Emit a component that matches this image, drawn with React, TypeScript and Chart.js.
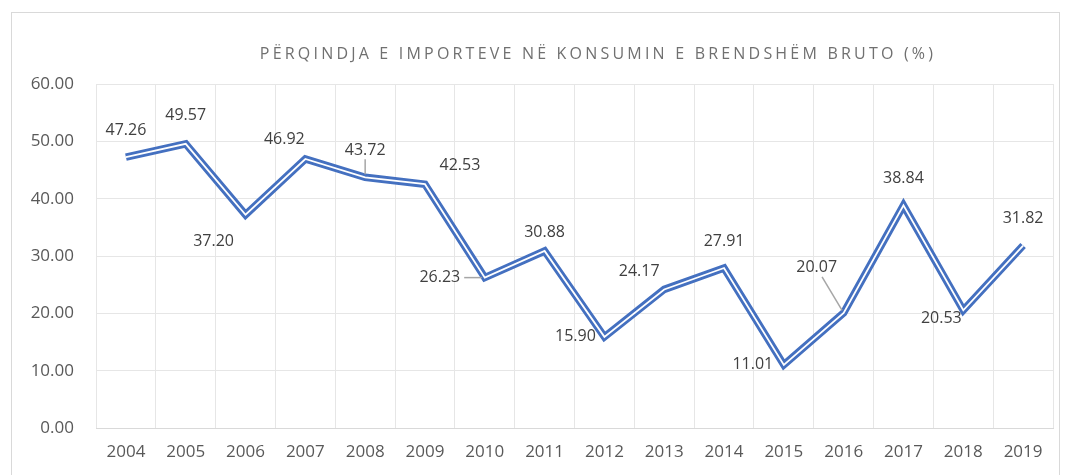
import React, { useEffect, useRef } from "react";
import { Chart, registerables } from "chart.js";

Chart.register(...registerables);

const TITLE = "PËRQINDJA E IMPORTEVE NË KONSUMIN E BRENDSHËM BRUTO (%)";
const years = ["2004", "2005", "2006", "2007", "2008", "2009", "2010", "2011", "2012", "2013", "2014", "2015", "2016", "2017", "2018", "2019"];
const importShare = [47.26, 49.57, 37.2, 46.92, 43.72, 42.53, 26.23, 30.88, 15.9, 24.17, 27.91, 11.01, 20.07, 38.84, 20.53, 31.82];
const yTicks = [0, 10, 20, 30, 40, 50, 60];

// label placement (presentation only): offset of label centre from its point, and leader line flag
const labelOffsets: [number, number][] = [
  [0, -27], [0, -28], [-32, 27], [-21, -20], [0, -27], [35, -19], [-45, 0], [0, -19],
  [-29, 0], [-25, -18], [0, -27], [-31, 0], [-27, -45], [0, -27], [-22, 8], [0, -27],
];
const leaderLines = [false, false, false, false, true, false, true, false, false, false, false, false, true, false, false, false];

const FONT = "'Open Sans', sans-serif";

const decorPlugin = {
  id: "decor",
  beforeDraw(chart: any) {
    const ctx = chart.ctx;
    ctx.save();
    ctx.fillStyle = "#ffffff";
    ctx.fillRect(0, 0, chart.width, chart.height);
    ctx.strokeStyle = "#d9d9d9";
    ctx.lineWidth = 1;
    ctx.strokeRect(11.5, 12.5, 1048, 500);
    ctx.restore();
  },
  afterDraw(chart: any) {
    const ctx = chart.ctx;
    ctx.save();
    ctx.fillStyle = "#707070";
    ctx.font = `16px ${FONT}`;
    (ctx as any).letterSpacing = "3.2px";
    ctx.textAlign = "center";
    ctx.textBaseline = "middle";
    ctx.fillText(TITLE, 598, 54);
    ctx.restore();
  },
  afterDatasetsDraw(chart: any) {
    const ctx = chart.ctx;
    const meta = chart.getDatasetMeta(0);
    ctx.save();
    ctx.font = `16px ${FONT}`;
    ctx.textAlign = "center";
    ctx.textBaseline = "middle";
    meta.data.forEach((pt: any, i: number) => {
      const [dx, dy] = labelOffsets[i];
      const lx = pt.x + dx;
      const ly = pt.y + dy;
      const text = importShare[i].toFixed(2);
      if (leaderLines[i]) {
        const w = ctx.measureText(text).width / 2 + 4;
        const h = 9;
        const vx = pt.x - lx;
        const vy = pt.y - ly;
        const len = Math.hypot(vx, vy);
        const ux = vx / len;
        const uy = vy / len;
        const t = Math.min(Math.abs(ux) > 1e-6 ? w / Math.abs(ux) : 1e9, Math.abs(uy) > 1e-6 ? h / Math.abs(uy) : 1e9);
        ctx.strokeStyle = "#a6a6a6";
        ctx.lineWidth = 1.5;
        ctx.beginPath();
        ctx.moveTo(lx + ux * t, ly + uy * t);
        ctx.lineTo(pt.x - ux * 3, pt.y - uy * 3);
        ctx.stroke();
      }
      ctx.fillStyle = "#404040";
      ctx.fillText(text, lx, ly);
    });
    ctx.restore();
  },
};

export default function App() {
  const ref = useRef<HTMLCanvasElement>(null);
  useEffect(() => {
    if (!ref.current) return;
    const chart = new Chart(ref.current, {
      type: "line",
      data: {
        labels: years,
        datasets: [
          {
            data: importShare,
            borderColor: "#4470c0",
            borderWidth: 7.5,
            pointRadius: 0,
            borderJoinStyle: "miter",
            borderCapStyle: "butt",
            tension: 0,
            order: 2,
          },
          {
            data: importShare,
            borderColor: "#ffffff",
            borderWidth: 1.8,
            pointRadius: 0,
            borderJoinStyle: "miter",
            borderCapStyle: "butt",
            tension: 0,
            order: 1,
          },
        ],
      },
      options: {
        animation: false,
        responsive: false,
        maintainAspectRatio: false,
        layout: { padding: { top: 84, right: 13, left: 0, bottom: 0 } },
        plugins: { legend: { display: false }, tooltip: { enabled: false }, title: { display: false } },
        scales: {
          x: {
            offset: true,
            grid: { color: "#e6e6e6", offset: true, drawTicks: false },
            border: { color: "#d9d9d9" },
            ticks: { color: "#595959", font: { family: FONT, size: 17 }, padding: 14, maxRotation: 0 },
            afterFit: (s: any) => { s.height = 47; },
          },
          y: {
            min: 0,
            max: 60,
            afterBuildTicks: (s: any) => { s.ticks = yTicks.map((v) => ({ value: v })); },
            grid: { color: "#e6e6e6", drawTicks: false },
            border: { display: false },
            ticks: {
              color: "#595959",
              font: { family: FONT, size: 17 },
              padding: 22,
              callback: (v: any) => Number(v).toFixed(2),
            },
            afterFit: (s: any) => { s.width = 96; },
          },
        },
      },
      plugins: [decorPlugin],
    });
    return () => chart.destroy();
  }, []);
  return (
    <div style={{ position: "absolute", left: 0, top: 0, width: 1066, height: 475, background: "#fff" }}>
      <canvas ref={ref} width={1066} height={475} style={{ width: 1066, height: 475, display: "block" }} />
    </div>
  );
}
